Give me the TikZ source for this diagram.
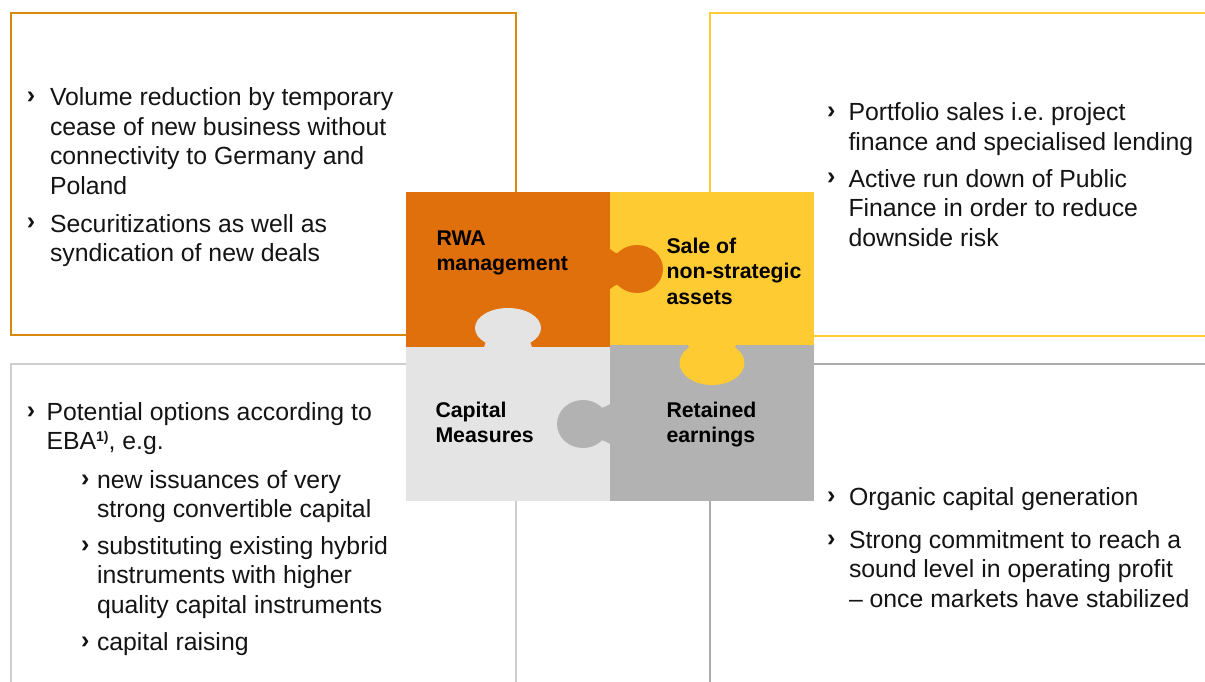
\documentclass[tikz,border=0pt]{standalone}
\usepackage{fontspec}
\setmainfont{Liberation Sans}
\frenchspacing
\definecolor{bOrange}{RGB}{216,138,12}
\definecolor{bYellow}{RGB}{255,204,51}
\definecolor{bLight}{RGB}{206,206,206}
\definecolor{bDark}{RGB}{172,172,172}
\definecolor{fOrange}{RGB}{224,112,11}
\definecolor{fYellow}{RGB}{255,203,50}
\definecolor{fLight}{RGB}{228,228,228}
\definecolor{fDark}{RGB}{178,178,178}
\definecolor{txtcol}{RGB}{20,20,20}
\newcommand{\txtlines}[1]{\begin{tabular}[t]{@{}l@{}}#1\end{tabular}}
\newcommand{\chev}{\raisebox{2pt}{\fontsize{25}{25}\selectfont\bfseries ›}}
% #1 x, #2 y, #3 rotation, #4 colour, #5 centre dist, #6 a, #7 b, #8 base half, #9 pinch half
\newcommand{\puzzletab}[9]{%
  \begin{scope}[shift={(#1,#2)},rotate=#3]
    \fill[#4] (#5,0) ellipse [x radius=#6, y radius=#7];
    \fill[#4] (-0.5,-#8) .. controls (2,-#8) and (3,-#9) .. (7,-#9) -- (7,#9)
       .. controls (3,#9) and (2,#8) .. (-0.5,#8) -- cycle;
  \end{scope}}
\begin{document}
\begin{tikzpicture}[x=1pt,y=-1pt,
  body/.style={anchor=base west, inner sep=0pt, outer sep=0pt, font=\fontsize{24.8}{29.5}\selectfont, text=txtcol},
  lab/.style={anchor=base west, inner sep=0pt, outer sep=0pt, font=\fontsize{21.3}{25.5}\selectfont\bfseries, text=black},
  frame/.style={line width=2pt}]
\useasboundingbox (0,0) rectangle (1205,682);
\fill[white] (0,0) rectangle (1205,682);

% frames
\draw[frame, bOrange] (11,13) rectangle (516,335);
\draw[frame, bYellow] (1210,13) -- (710,13) -- (710,335.5) -- (1210,335.5);
\draw[frame, bLight] (11,690) -- (11,364) -- (516,364) -- (516,690);
\draw[frame, bDark] (1210,364) -- (710,364) -- (710,690);

% puzzle quadrants
\fill[fOrange] (406,192) rectangle (610,347);
\fill[fYellow] (610,192) rectangle (814,345);
\fill[fLight] (406,347) rectangle (610,501);
\fill[fDark] (610,345) rectangle (814,501);

% tabs
\puzzletab{610}{269}{0}{fOrange}{27}{26}{24}{20}{16}
\puzzletab{508}{347}{90}{fLight}{19}{20}{33}{24}{22}
\puzzletab{712}{345}{-90}{fYellow}{18}{22}{32.5}{24}{22}
\puzzletab{610}{424}{180}{fDark}{27}{26}{24}{20}{17}

% puzzle labels
\node[lab] (rwa) at (436.5,245) {\txtlines{RWA\\management}};
\node[lab] (sale) at (666.5,253) {\txtlines{Sale of\\non-strategic\\assets}};
\node[lab] (cap) at (435.5,417) {\txtlines{Capital\\Measures}};
\node[lab] (ret) at (666.5,417) {\txtlines{Retained\\earnings}};

% top left
\node[body] (tlb1) at (27,106) {\chev};
\node[body] (tlt1) at (50,106) {\txtlines{Volume reduction by temporary\\cease of new business without\\connectivity to Germany and\\Poland}};
\node[body] (tlb2) at (27,232) {\chev};
\node[body] (tlt2) at (50,232) {\txtlines{Securitizations as well as\\syndication of new deals}};

% top right
\node[body] (trb1) at (827,121) {\chev};
\node[body] (trt1) at (848.5,121) {\txtlines{Portfolio sales i.e. project\\finance and specialised lending}};
\node[body] (trb2) at (827,187) {\chev};
\node[body] (trt2) at (848.5,187) {\txtlines{Active run down of Public\\Finance in order to reduce\\downside risk}};

% bottom left
\node[body] (blb1) at (27,420) {\chev};
\node[body] (blt1) at (46.5,420) {\txtlines{Potential options according to\\EBA\raisebox{8pt}{\fontsize{14}{14}\selectfont\bfseries 1)}, e.g.}};
\node[body] (blb2) at (81,488) {\chev};
\node[body] (blt2) at (97,488) {\txtlines{new issuances of very\\strong convertible capital}};
\node[body] (blb3) at (81,554) {\chev};
\node[body] (blt3) at (97,554) {\txtlines{substituting existing hybrid\\instruments with higher\\quality capital instruments}};
\node[body] (blb4) at (81,650) {\chev};
\node[body] (blt4) at (97,650) {\txtlines{capital raising}};

% bottom right
\node[body] (brb1) at (827,505) {\chev};
\node[body] (brt1) at (849,505) {\txtlines{Organic capital generation}};
\node[body] (brb2) at (827,548) {\chev};
\node[body] (brt2) at (849,548) {\txtlines{Strong commitment to reach a\\sound level in operating profit\\– once markets have stabilized}};
\end{tikzpicture}
\end{document}
